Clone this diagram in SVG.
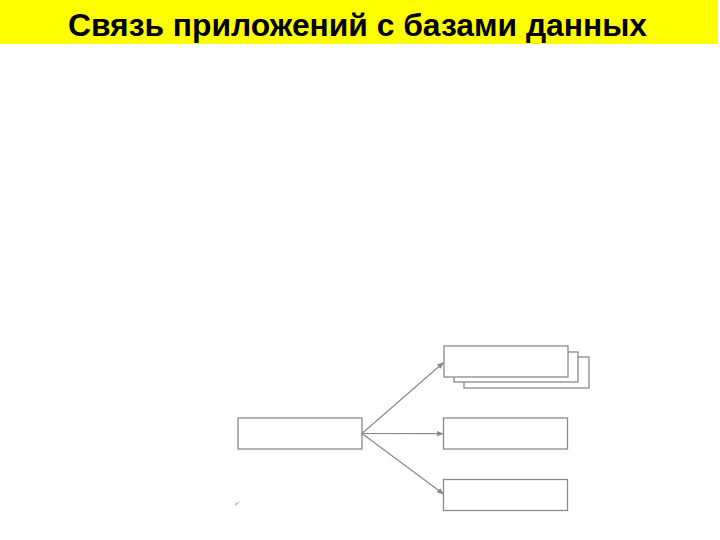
<svg xmlns="http://www.w3.org/2000/svg" width="720" height="540" viewBox="0 0 720 540">
<style>
.box{fill:#fff;stroke:#8a8a8a;stroke-width:1.3}
.conn{stroke:#8a8a8a;stroke-width:1.2;fill:none}
.title{font-family:"Liberation Sans",Arial,sans-serif;font-weight:bold;font-size:32px;fill:#000}
</style>
<defs>
<marker id="arr" viewBox="0 0 10 10" refX="9" refY="5" markerWidth="7" markerHeight="7" markerUnits="userSpaceOnUse" orient="auto">
<path d="M0,1 L10,5 L0,9 z" fill="#8a8a8a"/>
</marker>
</defs>
<rect x="0" y="0" width="720" height="540" fill="#fff"/>
<g id="header">
<rect x="0" y="0" width="718" height="44" fill="#ffff00"/>
<text class="title" x="68" y="35.5" textLength="579" lengthAdjust="spacingAndGlyphs">Связь приложений с базами данных</text>
</g>
<g id="source">
<rect class="box" x="238" y="418" width="124" height="31"/>
</g>
<g id="stack">
<rect class="box" x="464" y="357" width="125" height="31"/>
<rect class="box" x="454" y="352" width="124" height="30"/>
<rect class="box" x="444" y="346" width="124" height="31"/>
</g>
<g id="middle">
<rect class="box" x="443.5" y="418" width="124" height="31"/>
</g>
<g id="bottom">
<rect class="box" x="443.5" y="479.5" width="124" height="31"/>
</g>
<g id="connectors">
<line class="conn" x1="362" y1="433.5" x2="443.5" y2="362.5" marker-end="url(#arr)"/>
<line class="conn" x1="362" y1="433.5" x2="443" y2="433.7" marker-end="url(#arr)"/>
<line class="conn" x1="362" y1="433.5" x2="443.5" y2="494" marker-end="url(#arr)"/>
</g>
<path d="M235,505 q1,-3 3,-2 q-1,2 -3,2 M238,503 l1.5,-1.5" stroke="#aaa" stroke-width="0.8" fill="none"/>
</svg>
